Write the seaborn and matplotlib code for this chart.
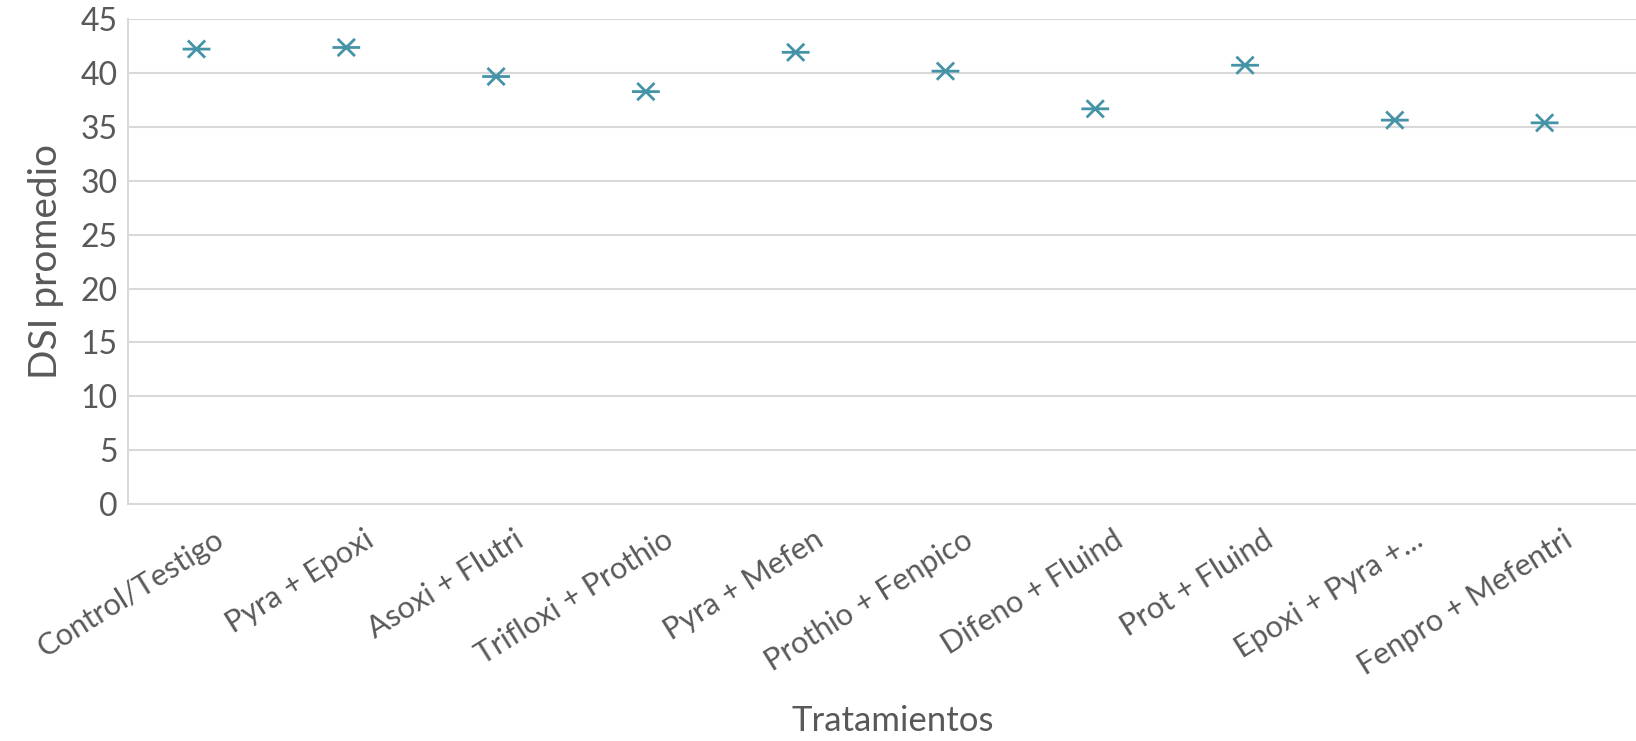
import numpy as np
import pandas as pd
import matplotlib
matplotlib.use("Agg")
import matplotlib.pyplot as plt
import matplotlib.transforms as mtransforms
from matplotlib.path import Path
import seaborn as sns

tratamientos = ["Control/Testigo", "Pyra + Epoxi", "Asoxi + Flutri", "Trifloxi + Prothio",
                "Pyra + Mefen", "Prothio + Fenpico", "Difeno + Fluind", "Prot + Fluind",
                "Epoxi + Pyra +...", "Fenpro + Mefentri"]
dsi = [42.25, 42.4, 39.7, 38.3, 41.95, 40.2, 36.7, 40.75, 35.65, 35.4]
yticks = [0, 5, 10, 15, 20, 25, 30, 35, 40, 45]

df = pd.DataFrame({"Tratamientos": tratamientos, "DSI": dsi})

sns.set_theme(style="white")
plt.rcParams["font.family"] = ["Lato", "DejaVu Sans"]
txt = "#595959"
grid = "#D9D9D9"

# excel style star marker: horizontal bar plus an x
star = Path([(-1, 0), (1, 0), (-0.62, -0.62), (0.62, 0.62), (-0.62, 0.62), (0.62, -0.62)],
            [Path.MOVETO, Path.LINETO, Path.MOVETO, Path.LINETO, Path.MOVETO, Path.LINETO])

fig = plt.figure(figsize=(16.36, 7.41), dpi=100)
ax = fig.add_axes([0.078, 0.32, 0.922, 0.6537])

sns.scatterplot(data=df, x="Tratamientos", y="DSI", marker=star, s=20**2,
                facecolor="none", edgecolor="#4593A7", linewidth=2, ax=ax, zorder=3)

ax.set_xlim(-0.46, 9.61)
ax.set_ylim(0, 45)
ax.set_yticks(yticks)
ax.yaxis.grid(True, color=grid, linewidth=1.5)
ax.xaxis.grid(False)
for s in ["top", "right"]:
    ax.spines[s].set_visible(False)
for s in ["left", "bottom"]:
    ax.spines[s].set_color(grid)
    ax.spines[s].set_linewidth(1.5)

ax.tick_params(axis="y", labelsize=23, labelcolor=txt, length=0, pad=7)
ax.tick_params(axis="x", labelsize=22, labelcolor=txt, length=0, pad=24)
shift = mtransforms.ScaledTranslation(0.25, 0.0, fig.dpi_scale_trans)
for lab in ax.get_xticklabels():
    lab.set_rotation(32)
    lab.set_ha("right")
    lab.set_va("center")
    lab.set_rotation_mode("anchor")
    lab.set_transform(lab.get_transform() + shift)

ax.set_ylabel("DSI promedio", fontsize=28, color=txt, labelpad=12)
ax.set_xlabel("Tratamientos", fontsize=25, color=txt)
ax.xaxis.set_label_coords(0.507, -0.415)

fig.savefig("out.png", dpi=100)
